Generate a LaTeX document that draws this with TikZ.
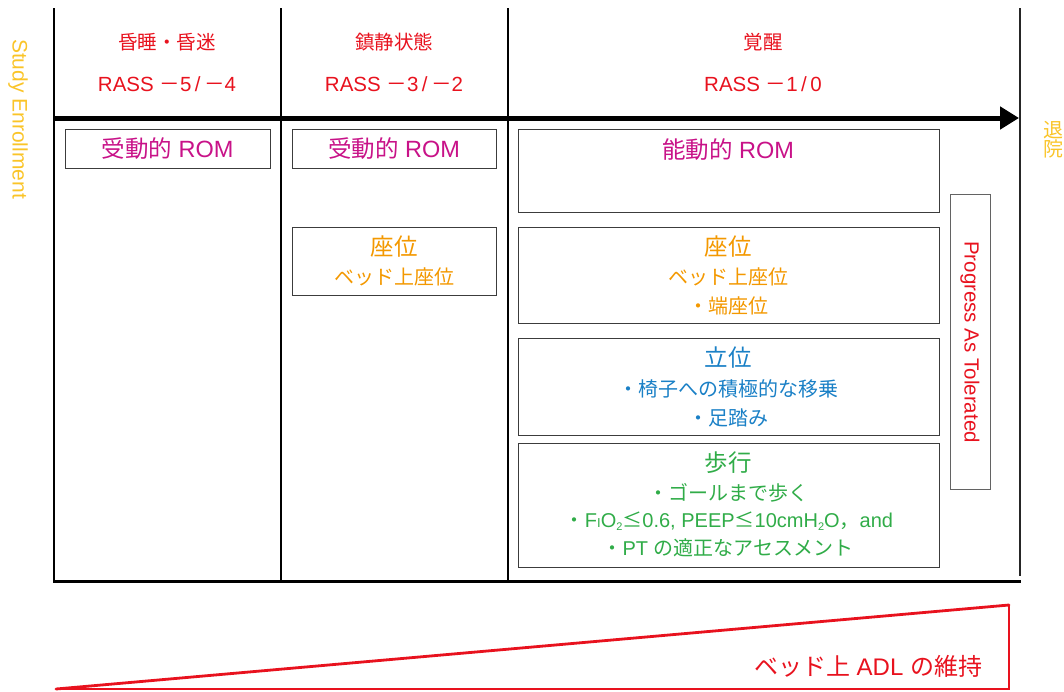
\documentclass[tikz,border=0pt]{standalone}
\usepackage{fontspec}
\setmainfont{Liberation Sans}
\newfontfamily\jpfont{Noto Sans CJK JP}
\newcommand{\J}[1]{{\jpfont #1}}
\newcommand{\fsz}[1]{\fontsize{#1}{#1}\selectfont}
\newcommand{\lowtwo}{\raisebox{-0.25ex}{\fsz{11}2}}
\newcommand{\wsl}{\makebox[0.62em]{/}}
\usetikzlibrary{arrows.meta}
\definecolor{hdred}{RGB}{232,18,30}
\definecolor{romc}{RGB}{200,18,136}
\definecolor{sitc}{RGB}{243,152,0}
\definecolor{stdc}{RGB}{26,128,198}
\definecolor{walkc}{RGB}{48,172,72}
\definecolor{yelc}{RGB}{250,196,40}
\definecolor{boxline}{RGB}{60,60,60}
\tikzset{
  box/.style={draw=boxline, line width=1pt, inner sep=0pt, anchor=center},
  txt/.style={inner sep=0pt, anchor=center},
  hdr/.style={txt, text=hdred, font=\fsz{19.5}},
  rass/.style={txt, text=hdred, font=\fsz{20.5}},
  romtxt/.style={txt, text=romc, font=\fsz{23.5}},
  bigsit/.style={txt, text=sitc, font=\fsz{23.5}},
  smsit/.style={txt, text=sitc, font=\fsz{20}},
  bigstd/.style={txt, text=stdc, font=\fsz{23.5}},
  smstd/.style={txt, text=stdc, font=\fsz{20}},
  bigwalk/.style={txt, text=walkc, font=\fsz{23.5}},
  smwalk/.style={txt, text=walkc, font=\fsz{20}},
  axisline/.style={line width=2.2pt, black},
}
\begin{document}
\begin{tikzpicture}[x=1pt,y=-1pt]
\useasboundingbox (0,0) rectangle (1064,691);
% axis coordinates
\coordinate (c1t) at (54,8);   \coordinate (c1b) at (54,582);
\coordinate (c2t) at (281,8);  \coordinate (c2b) at (281,582);
\coordinate (c3t) at (508,8);  \coordinate (c3b) at (508,582);
\coordinate (c4t) at (1020,8); \coordinate (c4b) at (1020,576);
\coordinate (arS) at (54,118); \coordinate (arE) at (1019,118);
\coordinate (btL) at (53,581); \coordinate (btR) at (1021,581);
\draw[axisline] (c1t) -- (c1b);
\draw[axisline] (c2t) -- (c2b);
\draw[axisline] (c3t) -- (c3b);
\draw[line width=1.6pt, black!85] (c4t) -- (c4b);
\draw[line width=3pt] (btL) -- (btR);
\draw[line width=5pt, -{Triangle[length=19pt,width=22pt]}] (arS) -- (arE);

% headers
\node[hdr] (h1a) at (167,42) {\J{昏睡・昏迷}};
\node[rass] (h1b) at (167,84) {RASS \J{－}5\wsl\J{－}4};
\node[hdr] (h2a) at (394,42) {\J{鎮静状態}};
\node[rass] (h2b) at (394,84) {RASS \J{－}3\wsl\J{－}2};
\node[hdr] (h3a) at (763,42) {\J{覚醒}};
\node[rass] (h3b) at (763,84) {RASS \J{－}1\wsl 0};

% side labels
\node[txt, text=yelc, font=\fsz{21}, rotate=-90] (enroll) at (18,119) {Study Enrollment};
\node[txt, text=yelc, font=\fsz{20}, align=center] (disch) at (1053,140) {\J{退}\\[-1pt]\J{院}};

% column 1
\node[box, minimum width=205pt, minimum height=39pt] (b1) at (167.5,148.5) {};
\node[romtxt] (t1) at (167.5,149) {\J{受動的} ROM};

% column 2
\node[box, minimum width=204pt, minimum height=39pt] (b2) at (394,148.5) {};
\node[romtxt] (t2) at (394,149) {\J{受動的} ROM};
\node[box, minimum width=204pt, minimum height=68pt] (b3) at (394,261) {};
\node[bigsit] (t3a) at (394,247) {\J{座位}};
\node[smsit] (t3b) at (394,277) {\J{ベッド上座位}};

% column 3
\node[box, minimum width=421pt, minimum height=83pt] (b4) at (728.5,170.5) {};
\node[romtxt] (t4) at (728,150) {\J{能動的} ROM};

\node[box, minimum width=421pt, minimum height=96pt] (b5) at (728.5,275) {};
\node[bigsit] (t5a) at (728,247) {\J{座位}};
\node[smsit] (t5b) at (728,277) {\J{ベッド上座位}};
\node[smsit] (t5c) at (728,306) {\J{・端座位}};

\node[box, minimum width=421pt, minimum height=97pt] (b6) at (728.5,386.5) {};
\node[bigstd] (t6a) at (728,358) {\J{立位}};
\node[smstd] (t6b) at (728,389) {\J{・椅子への積極的な移乗}};
\node[smstd] (t6c) at (728,418) {\J{・足踏み}};

\node[box, minimum width=421pt, minimum height=124pt] (b7) at (728.5,505) {};
\node[bigwalk] (t7a) at (728,463) {\J{歩行}};
\node[smwalk] (t7b) at (728,493) {\J{・ゴールまで歩く}};
\node[smwalk] (t7c) at (729,521) {\J{・}F{\fsz{13}I}O\lowtwo\J{≤}0.6, PEEP\J{≤}10cmH\lowtwo O\J{，}and};
\node[smwalk] (t7d) at (728,548) {\J{・}PT \J{の適正なアセスメント}};

\node[box, draw=boxline!80, minimum width=40pt, minimum height=295pt] (b8) at (970,341.5) {};
\node[txt, text=hdred, font=\fsz{20.5}, rotate=-90] (t8) at (970,342) {Progress As Tolerated};

% bottom triangle
\coordinate (trA) at (56,689);
\coordinate (trB) at (1009,689);
\coordinate (trC) at (1009,605);
\draw[hdred, line width=1.5pt] (trA) -- (trB) -- (trC);
\draw[hdred, line width=2.8pt, line cap=round] (trA) -- (trC);
\node[txt, text=hdred, font=\fsz{24}] (adl) at (868,666) {\J{ベッド上} ADL \J{の維持}};
\end{tikzpicture}
\end{document}
